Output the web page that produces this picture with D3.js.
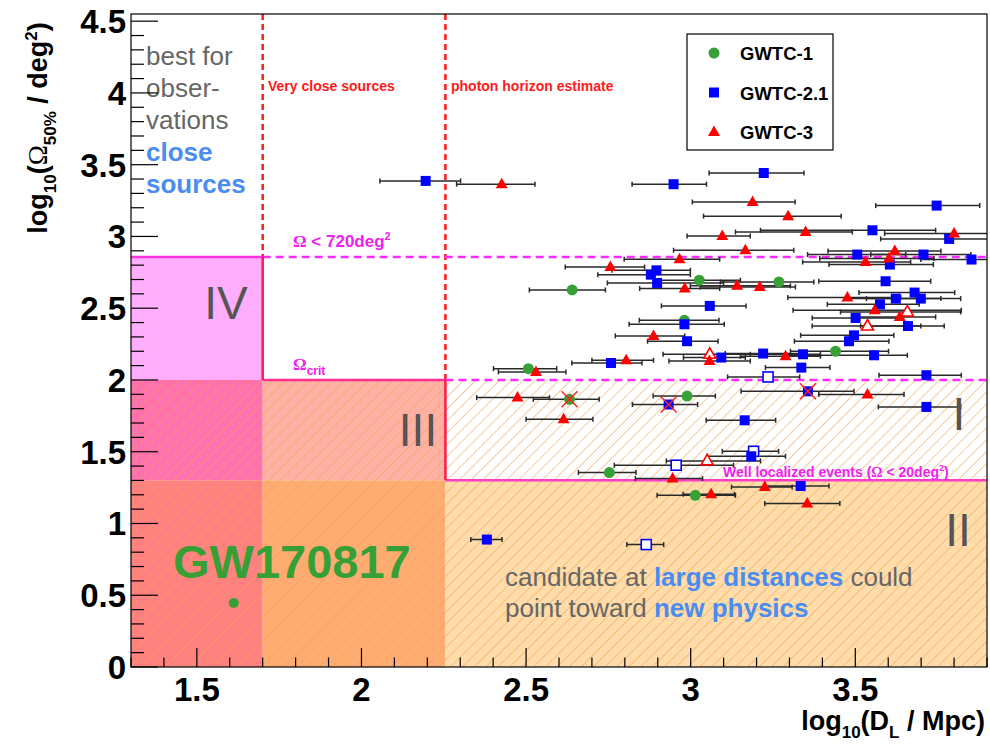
<!DOCTYPE html>
<html>
<head>
<meta charset="utf-8">
<script src="https://cdn.jsdelivr.net/npm/d3@7"></script>
<style>
  body { margin: 0; background: #fff; }
  svg { display: block; }
  text { font-family: "Liberation Sans", Arial, Helvetica, sans-serif; }
</style>
</head>
<body>
<svg id="chart" width="990" height="744"></svg>
<script>
// Each event: [log10 D_L, lower, upper, log10 Omega_50%, flag]
// flag: 0 = filled marker, 1 = open marker, 2 = crossed out
const gwtc1 = [
  [3.026, 2.887, 3.151, 2.695, 0],
  [3.268, 3.090, 3.374, 2.683, 0],
  [2.640, 2.510, 2.741, 2.627, 0],
  [2.981, 2.844, 3.086, 2.416, 0],
  [2.507, 2.401, 2.593, 2.079, 0],
  [2.632, 2.522, 2.722, 1.865, 2],
  [2.989, 2.886, 3.075, 1.888, 0],
  [2.753, 2.659, 2.834, 1.355, 0],
  [3.014, 2.898, 3.136, 1.196, 0],
  [3.440, 3.303, 3.601, 2.200, 0]
];
const gwtc21 = [
  [2.195, 2.056, 2.301, 3.387, 0],
  [2.948, 2.822, 3.048, 3.364, 0],
  [3.222, 3.056, 3.344, 3.442, 0],
  [3.552, 3.212, 3.744, 3.043, 0],
  [3.785, 3.577, 3.950, 2.983, 0],
  [2.896, 2.761, 2.999, 2.764, 0],
  [2.879, 2.718, 2.999, 2.734, 0],
  [2.898, 2.747, 3.100, 2.676, 0],
  [3.058, 2.911, 3.168, 2.516, 0],
  [2.981, 2.813, 3.102, 2.388, 0],
  [2.989, 2.869, 3.083, 2.270, 0],
  [3.093, 2.978, 3.166, 2.156, 0],
  [2.758, 2.639, 2.852, 2.118, 0],
  [2.933, 2.823, 3.021, 1.829, 2],
  [2.956, 2.768, 3.130, 1.406, 1],
  [2.381, 2.332, 2.427, 0.888, 0],
  [2.865, 2.806, 2.918, 0.853, 1],
  [3.747, 3.562, 3.878, 3.215, 0],
  [3.506, 3.355, 3.653, 2.874, 0],
  [3.707, 3.547, 3.851, 2.874, 0],
  [3.605, 3.420, 3.737, 2.804, 0],
  [3.853, 3.699, 3.950, 2.839, 0],
  [3.592, 3.389, 3.729, 2.688, 0],
  [3.680, 3.511, 3.802, 2.609, 0],
  [3.623, 3.474, 3.760, 2.567, 0],
  [3.699, 3.534, 3.820, 2.567, 0],
  [3.575, 3.415, 3.694, 2.527, 0],
  [3.501, 3.369, 3.638, 2.432, 0],
  [3.660, 3.516, 3.770, 2.376, 0],
  [3.496, 3.334, 3.617, 2.311, 0],
  [3.481, 3.315, 3.602, 2.270, 0],
  [3.220, 3.105, 3.334, 2.184, 0],
  [3.341, 3.181, 3.394, 2.179, 0],
  [3.557, 3.293, 3.658, 2.172, 0],
  [3.336, 3.227, 3.423, 2.086, 0],
  [3.235, 3.112, 3.331, 2.021, 1],
  [3.716, 3.572, 3.822, 2.033, 0],
  [3.356, 3.153, 3.496, 1.921, 2],
  [3.716, 3.570, 3.820, 1.812, 0],
  [3.164, 3.047, 3.258, 1.719, 0],
  [3.191, 3.096, 3.267, 1.503, 1],
  [3.184, 3.050, 3.288, 1.468, 0],
  [3.334, 3.227, 3.420, 1.261, 0]
];
const gwtc3 = [
  [2.426, 2.289, 2.527, 3.364, 0],
  [3.188, 3.005, 3.317, 3.240, 0],
  [3.296, 3.039, 3.457, 3.141, 0],
  [3.096, 2.989, 3.181, 3.003, 0],
  [3.349, 3.136, 3.491, 3.031, 0],
  [3.800, 3.589, 3.950, 3.020, 0],
  [3.166, 2.948, 3.313, 2.904, 0],
  [2.966, 2.798, 3.088, 2.841, 0],
  [2.756, 2.619, 2.860, 2.787, 0],
  [2.982, 2.845, 3.088, 2.637, 0],
  [3.141, 2.999, 3.303, 2.656, 0],
  [3.210, 3.029, 3.318, 2.648, 0],
  [2.887, 2.771, 2.982, 2.307, 0],
  [3.058, 2.916, 3.212, 2.179, 1],
  [3.057, 2.934, 3.181, 2.132, 0],
  [2.804, 2.700, 2.887, 2.137, 0],
  [2.530, 2.416, 2.621, 2.056, 0],
  [2.474, 2.350, 2.571, 1.877, 0],
  [2.614, 2.500, 2.703, 1.726, 0],
  [3.050, 2.926, 3.212, 1.436, 1],
  [2.945, 2.832, 3.036, 1.313, 0],
  [3.062, 2.977, 3.133, 1.203, 0],
  [3.620, 3.417, 3.760, 2.899, 0],
  [3.531, 3.340, 3.668, 2.822, 0],
  [3.602, 3.392, 3.739, 2.846, 0],
  [3.476, 3.295, 3.638, 2.574, 0],
  [3.559, 3.311, 3.822, 2.486, 0],
  [3.658, 3.455, 3.820, 2.474, 1],
  [3.635, 3.501, 3.744, 2.439, 0],
  [3.537, 3.369, 3.699, 2.376, 1],
  [3.288, 3.151, 3.394, 2.165, 0],
  [3.537, 3.389, 3.648, 1.898, 0],
  [3.225, 3.124, 3.308, 1.254, 0],
  [3.354, 3.225, 3.453, 1.139, 0]
];
// GW170817: [log10 D_L, log10 Omega_50%]
const gw170817 = [1.612, 0.446];

const xTickLabels = [1.5, 2, 2.5, 3, 3.5];
const yTickLabels = [0, 0.5, 1, 1.5, 2, 2.5, 3, 3.5, 4, 4.5];
const legendNames = ["GWTC-1", "GWTC-2.1", "GWTC-3"];

// Boundaries in log10 units
const dVeryClose = 1.7;                 // very close sources
const dHorizon = 2.255;                 // photon horizon estimate
const omega720 = Math.log10(720);       // Omega < 720 deg^2
const omegaCrit = 2;                    // Omega_crit
const omega20 = Math.log10(20);         // well localized events

(function draw() {
const svg = d3.select("#chart");
const W = 990, H = 744;
const pL = 131, pR = 987, pT = 14, pB = 667;

const x = d3.scaleLinear().domain([1.3, 3.9]).range([pL, pR]);
const y = d3.scaleLinear().domain([0, 4.55]).range([pB, pT]);

svg.append("rect").attr("width", W).attr("height", H).attr("fill", "#fff");

const defs = svg.append("defs");
defs.append("clipPath").attr("id", "plotClip")
  .append("rect").attr("x", pL).attr("y", pT)
  .attr("width", pR - pL).attr("height", pB - pT);

const hatch = defs.append("pattern").attr("id", "hatch")
  .attr("patternUnits", "userSpaceOnUse")
  .attr("width", 8.4).attr("height", 8.4)
  .attr("patternTransform", "rotate(45)");
hatch.append("line").attr("x1", 0).attr("y1", 0).attr("x2", 0).attr("y2", 8.4)
  .attr("stroke", "#eda552").attr("stroke-width", 1.4).attr("stroke-opacity", 0.8);

const plot = svg.append("g").attr("clip-path", "url(#plotClip)");

// Shaded zones
function zone(x0, x1, y0, y1, fill) {
  plot.append("rect")
    .attr("x", x(x0)).attr("width", x(x1) - x(x0))
    .attr("y", y(y1)).attr("height", y(y0) - y(y1))
    .attr("fill", fill);
}
zone(1.3, dVeryClose, omegaCrit, omega720, "#ffadfd");   // IV
zone(1.3, dVeryClose, omega20, omegaCrit, "#ff70ae");
zone(1.3, dVeryClose, 0, omega20, "#ff8080");
zone(dVeryClose, dHorizon, omega20, omegaCrit, "#ffb1a6");
zone(dVeryClose, dHorizon, 0, omega20, "#ffac72");
zone(dHorizon, 3.9, 0, omega20, "#ffdcaa");
// hatching over everything below Omega_crit
zone(1.3, 3.9, 0, omegaCrit, "url(#hatch)");

// Boundary lines
function seg(x0, y0, x1, y1, color, dash) {
  const l = plot.append("line")
    .attr("x1", x(x0)).attr("y1", y(y0)).attr("x2", x(x1)).attr("y2", y(y1))
    .attr("stroke", color).attr("stroke-width", 2.6);
  if (dash) l.attr("stroke-dasharray", dash);
}
seg(dVeryClose, 4.55, dVeryClose, omega720, "#ff2323", "6,4");
seg(dHorizon, 4.55, dHorizon, omegaCrit, "#ff2323", "6,4");
seg(dVeryClose, omega720, 3.9, omega720, "#ff2bff", "8,5");
seg(dHorizon, omegaCrit, 3.9, omegaCrit, "#ff2bff", "8,5");
seg(1.3, omega720, dVeryClose, omega720, "#ff33dd");
seg(dVeryClose, omegaCrit, dHorizon, omegaCrit, "#ff2f8f");
seg(dHorizon, omega20, 3.9, omega20, "#ff3cc8");
seg(dVeryClose, omegaCrit, dVeryClose, omega720, "#ff2156");
seg(dHorizon, omega20, dHorizon, omegaCrit, "#ff2146");

// Zone and line annotations
const ann = svg.append("g");
ann.append("text").attr("x", 268).attr("y", 91).attr("font-size", 14).attr("font-weight", "bold")
  .attr("fill", "#ff1a1a").text("Very close sources");
ann.append("text").attr("x", 451).attr("y", 91).attr("font-size", 14).attr("font-weight", "bold")
  .attr("fill", "#ff1a1a").text("photon horizon estimate");

const t720 = ann.append("text").attr("x", 293).attr("y", 247).attr("font-size", 17)
  .attr("font-weight", "bold").attr("fill", "#f020f0");
t720.append("tspan").attr("font-family", "Liberation Serif, serif").text("Ω");
t720.append("tspan").text(" < 720deg");
t720.append("tspan").attr("font-size", 11).attr("dy", -7).text("2");

const tCrit = ann.append("text").attr("x", 293).attr("y", 370).attr("font-size", 17)
  .attr("font-weight", "bold").attr("fill", "#f020f0");
tCrit.append("tspan").attr("font-family", "Liberation Serif, serif").text("Ω");
tCrit.append("tspan").attr("font-size", 12).attr("dy", 5).text("crit");

const tWell = ann.append("text").attr("x", 723).attr("y", 477).attr("font-size", 14)
  .attr("font-weight", "bold").attr("fill", "#f020f0");
tWell.append("tspan").text("Well localized events (");
tWell.append("tspan").attr("font-family", "Liberation Serif, serif").text("Ω");
tWell.append("tspan").text(" < 20deg");
tWell.append("tspan").attr("font-size", 9).attr("dy", -6).text("2");
tWell.append("tspan").attr("dy", 6).text(")");

function roman(txt, cx, by) {
  ann.append("text").attr("x", cx).attr("y", by).attr("text-anchor", "middle")
    .attr("font-size", 46).attr("fill", "#555").text(txt);
}
roman("IV", 226, 319);
roman("III", 418, 446);
roman("I", 959, 430);
roman("II", 958, 546);

const side = [["best for", "#666", "normal"], ["obser-", "#666", "normal"], ["vations", "#666", "normal"],
              ["close", "#4a8cf0", "bold"], ["sources", "#4a8cf0", "bold"]];
side.forEach((s, i) => {
  ann.append("text").attr("x", 146).attr("y", 65 + i * 32).attr("font-size", 26)
    .attr("font-weight", s[2]).attr("fill", s[1]).text(s[0]);
});

const c1 = ann.append("text").attr("x", 505).attr("y", 586).attr("font-size", 26).attr("fill", "#666");
c1.append("tspan").text("candidate at ");
c1.append("tspan").attr("font-weight", "bold").attr("fill", "#4a8cf0").text("large distances");
c1.append("tspan").text(" could");
const c2 = ann.append("text").attr("x", 505).attr("y", 617).attr("font-size", 26).attr("fill", "#666");
c2.append("tspan").text("point toward ");
c2.append("tspan").attr("font-weight", "bold").attr("fill", "#4a8cf0").text("new physics");

ann.append("text").attr("x", 173).attr("y", 578).attr("font-size", 47).attr("font-weight", "bold")
  .attr("fill", "#36a036").text("GW170817");
plot.append("circle").attr("cx", x(gw170817[0])).attr("cy", y(gw170817[1])).attr("r", 5)
  .attr("fill", "#36a036");

// Error bars
const allSets = [
  { data: gwtc1, color: "#37a037", shape: "circle" },
  { data: gwtc21, color: "#0000ff", shape: "square" },
  { data: gwtc3, color: "#ff0000", shape: "triangle" }
];
const bars = plot.append("g").attr("stroke", "#2a2a2a").attr("stroke-width", 1.5);
allSets.forEach(s => {
  s.data.forEach(d => {
    bars.append("line").attr("x1", x(d[1])).attr("x2", x(d[2])).attr("y1", y(d[3])).attr("y2", y(d[3]));
    [d[1], d[2]].forEach(v => {
      bars.append("line").attr("x1", x(v)).attr("x2", x(v)).attr("y1", y(d[3]) - 2.5).attr("y2", y(d[3]) + 2.5);
    });
  });
});

function drawMarker(g, shape, cx, cy, color, open) {
  let m;
  if (shape === "circle") {
    m = g.append("circle").attr("cx", cx).attr("cy", cy).attr("r", 5.5);
  } else if (shape === "square") {
    m = g.append("rect").attr("x", cx - 5).attr("y", cy - 5).attr("width", 10).attr("height", 10);
  } else {
    m = g.append("path").attr("d", `M${cx},${cy - 6.5}L${cx + 6},${cy + 4}L${cx - 6},${cy + 4}Z`);
  }
  if (open) m.attr("fill", "#fff").attr("stroke", color).attr("stroke-width", 1.6);
  else m.attr("fill", color);
}

const marks = plot.append("g");
allSets.forEach(s => {
  s.data.forEach(d => {
    const cx = x(d[0]), cy = y(d[3]);
    drawMarker(marks, s.shape, cx, cy, s.color, d[4] === 1);
    if (d[4] === 2) {
      marks.append("path").attr("d", `M${cx - 8},${cy - 8}L${cx + 8},${cy + 8}M${cx - 8},${cy + 8}L${cx + 8},${cy - 8}`)
        .attr("stroke", "#ff2020").attr("stroke-width", 1.5).attr("fill", "none");
    }
  });
});

// Frame and axes
const axes = svg.append("g");
axes.append("rect").attr("x", pL).attr("y", pT).attr("width", pR - pL).attr("height", pB - pT)
  .attr("fill", "none").attr("stroke", "#000").attr("stroke-width", 1.2);

const xMinor = d3.range(13, 40).map(v => v / 10);
xMinor.forEach(v => {
  const major = xTickLabels.some(t => Math.abs(t - v) < 1e-6);
  axes.append("line").attr("x1", x(v)).attr("x2", x(v)).attr("y1", pB)
    .attr("y2", pB - (major ? 19 : 9.5)).attr("stroke", "#000").attr("stroke-width", 1.2);
});
xTickLabels.forEach(v => {
  axes.append("text").attr("x", x(v)).attr("y", 701).attr("text-anchor", "middle")
    .attr("font-size", 33).attr("font-weight", "bold").text(v);
});

const yMinor = d3.range(0, 46).map(v => v / 10);
yMinor.forEach(v => {
  const major = yTickLabels.some(t => Math.abs(t - v) < 1e-6);
  axes.append("line").attr("x1", pL).attr("x2", pL + (major ? 27 : 13))
    .attr("y1", y(v)).attr("y2", y(v)).attr("stroke", "#000").attr("stroke-width", 1.2);
});
yTickLabels.forEach(v => {
  axes.append("text").attr("x", 126).attr("y", y(v) + 12).attr("text-anchor", "end")
    .attr("font-size", 33).attr("font-weight", "bold").text(v);
});

// Axis titles
const xt = axes.append("text").attr("x", 985).attr("y", 730).attr("text-anchor", "end")
  .attr("font-size", 27).attr("font-weight", "bold");
xt.append("tspan").text("log");
xt.append("tspan").attr("font-size", 17).attr("dy", 8).text("10");
xt.append("tspan").attr("dy", -8).text("(D");
xt.append("tspan").attr("font-size", 17).attr("dy", 8).text("L");
xt.append("tspan").attr("dy", -8).text(" / Mpc)");

const yt = axes.append("text").attr("transform", "translate(47,128) rotate(-90)")
  .attr("text-anchor", "middle").attr("font-size", 27).attr("font-weight", "bold");
yt.append("tspan").text("log");
yt.append("tspan").attr("font-size", 17).attr("dy", 9).text("10");
yt.append("tspan").attr("dy", -9).text("(");
yt.append("tspan").attr("font-family", "Liberation Serif, serif").attr("font-weight", "normal").text("Ω");
yt.append("tspan").attr("font-size", 17).attr("dy", 9).text("50%");
yt.append("tspan").attr("dy", -9).text(" / deg");
yt.append("tspan").attr("font-size", 17).attr("dy", -10).text("2");
yt.append("tspan").attr("dy", 10).text(")");

// Legend
const lg = svg.append("g");
lg.append("rect").attr("x", 687).attr("y", 34).attr("width", 146).attr("height", 116)
  .attr("fill", "#fff").attr("stroke", "#000").attr("stroke-width", 1.2);
allSets.forEach((s, i) => {
  const cy = 53 + i * 39.5;
  drawMarker(lg, s.shape, 714, cy, s.color, false);
  lg.append("text").attr("x", 740).attr("y", cy + 7).attr("font-size", 18.5)
    .attr("font-weight", "bold").text(legendNames[i]);
});
})();
</script>
</body>
</html>
